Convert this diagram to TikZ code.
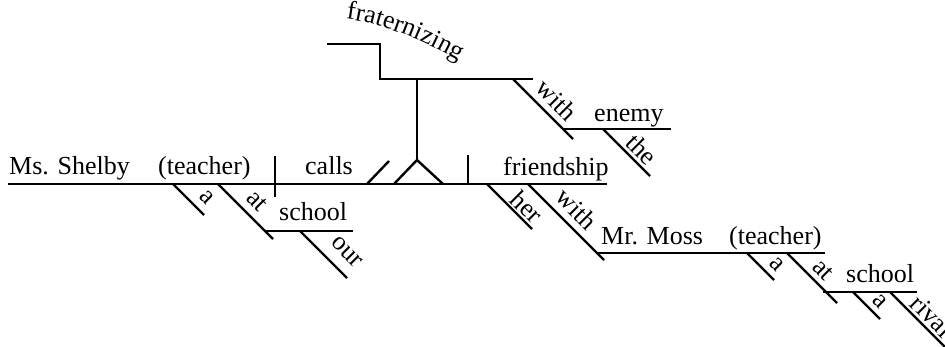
\documentclass[tikz,border=0pt]{standalone}
\usepackage{fontspec}
\setmainfont{Liberation Serif}
\usetikzlibrary{decorations.text}

\newcommand{\wordsize}{\fontsize{26}{30}\selectfont}

\begin{document}
\begin{tikzpicture}[x=1pt, y=-1pt, line width=2.4pt, font=\wordsize,
  word/.style={anchor=base west, inner sep=0pt},
  slantword/.style={rotate=-45, inner sep=0pt}]
  \useasboundingbox (0,0) rectangle (945,347);
  \clip (0,0) rectangle (945,347);
  % base line with its dividers
  \draw (8,184) -- (607,184);
  \draw (275,156) -- (275,197);
  \draw (468,155) -- (468,184);
  \draw (367,184) -- (389,161);
  \draw (394,184) -- (417,160) -- (443,184);
  % pedestal of the gerund
  \draw (417,160) -- (417,79);
  \draw (327,44) -- (380,44) -- (380,79) -- (533,79);
  % horizontal lines of the objects
  \draw (265,231) -- (353,231);
  \draw (563,129) -- (671,129);
  \draw (597,253) -- (825,253);
  \draw (823,292) -- (917,292);
  % slanted modifier lines
  \foreach \sx/\sy/\sl in {173/184/31, 218/184/55, 300/231/47, 513/79/60,
      603/129/47, 487/184/45, 528/184/76, 747/253/27, 787/253/50,
      853/292/27, 890/292/70}
    \draw (\sx,\sy) -- ++(\sl,\sl);
  % words on the lines
  \node[word] (shelby) at (8,175) {Ms. Shelby};
  \node[word] (teacher) at (157,175) {(teacher)};
  \node[word] (calls) at (304,175) {calls};
  \node[word] (friendship) at (502,176) {friendship};
  \node[word] (school) at (278,221) {school};
  \node[word] (enemy) at (593,122) {enemy};
  \node[word] (moss) at (600,245) {Mr. Moss};
  \node[word] (teacher2) at (728,245) {(teacher)};
  \node[word] (school2) at (845,283) {school};
  \path[decorate, decoration={text along path, text align=left,
      text={|\wordsize|fraternizing}}]
    (346,19) .. controls (380,23) and (425,40) .. (468,66);
  % words on the slants
  \node[slantword] (art) at (207,197) {a};
  \node[slantword] (at) at (257,201) {at};
  \node[slantword] (our) at (347,252) {our};
  \node[slantword] (with) at (557,100) {with};
  \node[slantword] (the) at (642,149) {the};
  \node[slantword] (her) at (527,207) {her};
  \node[slantword] (with2) at (577,209) {with};
  \node[slantword] (art2) at (777,264) {a};
  \node[slantword] (at2) at (823,270) {at};
  \node[slantword] (art3) at (880,301) {a};
  \node[slantword] (rival) at (932,316) {rival};
\end{tikzpicture}
\end{document}
